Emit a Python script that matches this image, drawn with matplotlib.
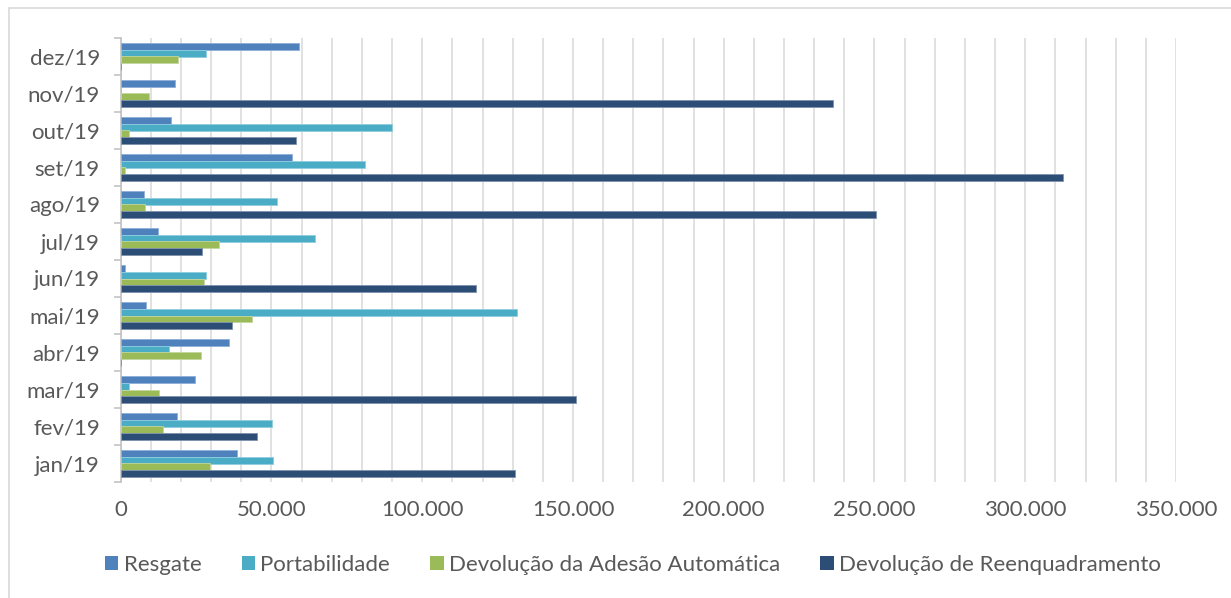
import matplotlib
matplotlib.use("Agg")
import matplotlib.pyplot as plt
import numpy as np
from matplotlib.ticker import FuncFormatter, MultipleLocator, FixedLocator
from matplotlib.patches import Rectangle

months = ["jan/19", "fev/19", "mar/19", "abr/19", "mai/19", "jun/19",
          "jul/19", "ago/19", "set/19", "out/19", "nov/19", "dez/19"]
resgate = [38700, 18800, 24700, 35800, 8400, 1300, 12300, 7700, 56800, 16800, 18100, 59100]
portabilidade = [50600, 50200, 2600, 16000, 131300, 28300, 64400, 51800, 81000, 90100, 0, 28300]
adesao = [29600, 14100, 12800, 26500, 43700, 27700, 32600, 8000, 1500, 2600, 9300, 19100]
reenquadramento = [130900, 45300, 150900, 0, 36800, 117700, 26900, 250400, 312600, 58300, 236300, 0]

series_names = ["Resgate", "Portabilidade", "Devolução da Adesão Automática",
                "Devolução de Reenquadramento"]
series_vals = [resgate, portabilidade, adesao, reenquadramento]
colors = ["#4F81BD", "#4BACC6", "#9BBB59", "#2C4D75"]
edge_colors = ["#8FAFD8", "#8ECFE0", "#C3D79C", "#7F93AD"]

W, H = 1231, 598
fig = plt.figure(figsize=(W / 100, H / 100), dpi=100)
plt.rcParams['font.family'] = ['Lato', 'DejaVu Sans']

# chart area border
fig.patches.append(Rectangle((8.5 / W, -0.1), 1.1, (598 - 8.5) / H + 0.1,
                             transform=fig.transFigure, fill=False,
                             edgecolor="#D9D9D9", linewidth=1.2))

left, right, top, bottom = 120.7, 1176, 38, 482
ax = fig.add_axes([left / W, 1 - bottom / H, (right - left) / W, (bottom - top) / H])

y = np.arange(len(months))
h = 0.18
offsets = [1.5 * h, 0.5 * h, -0.5 * h, -1.5 * h]
for vals, name, c, ec, off in zip(series_vals, series_names, colors, edge_colors, offsets):
    ax.barh(y + off, vals, height=h, color=c, edgecolor=ec, linewidth=0.6,
            label=name, zorder=3)

ax.set_xlim(0, 350000)
ax.set_ylim(-0.5, len(months) - 0.5)
ax.xaxis.set_major_locator(MultipleLocator(50000))
ax.xaxis.set_minor_locator(MultipleLocator(10000))
ax.xaxis.set_major_formatter(FuncFormatter(lambda v, p: f"{int(v):,}".replace(",", ".")))
ax.grid(axis="x", which="both", color="#D9D9D9", linewidth=1.1, zorder=0)
ax.set_axisbelow(True)

ax.set_yticks(y)
ax.set_yticklabels(months)
ax.yaxis.set_minor_locator(FixedLocator(np.arange(-0.5, len(months), 1.0)))
ax.tick_params(axis="y", which="major", length=0, pad=15, labelsize=16, labelcolor="#595959")
ax.tick_params(axis="y", which="minor", length=5, width=1.1, color="#BFBFBF", direction="out")
ax.tick_params(axis="x", which="both", length=0, pad=13, labelsize=16, labelcolor="#595959")

for s in ["top", "right", "bottom"]:
    ax.spines[s].set_visible(False)
ax.spines["left"].set_color("#BFBFBF")
ax.spines["left"].set_linewidth(1.1)

handles = [Rectangle((0, 0), 1, 1, facecolor=c) for c in colors]
fig.legend(handles, series_names, loc="center", ncol=4,
           bbox_to_anchor=(633 / W, 1 - 565 / H), frameon=False,
           fontsize=16, labelcolor="#595959", handlelength=0.6, handleheight=0.6,
           handletextpad=0.25, columnspacing=1.8)

fig.savefig("out.png", dpi=100)
